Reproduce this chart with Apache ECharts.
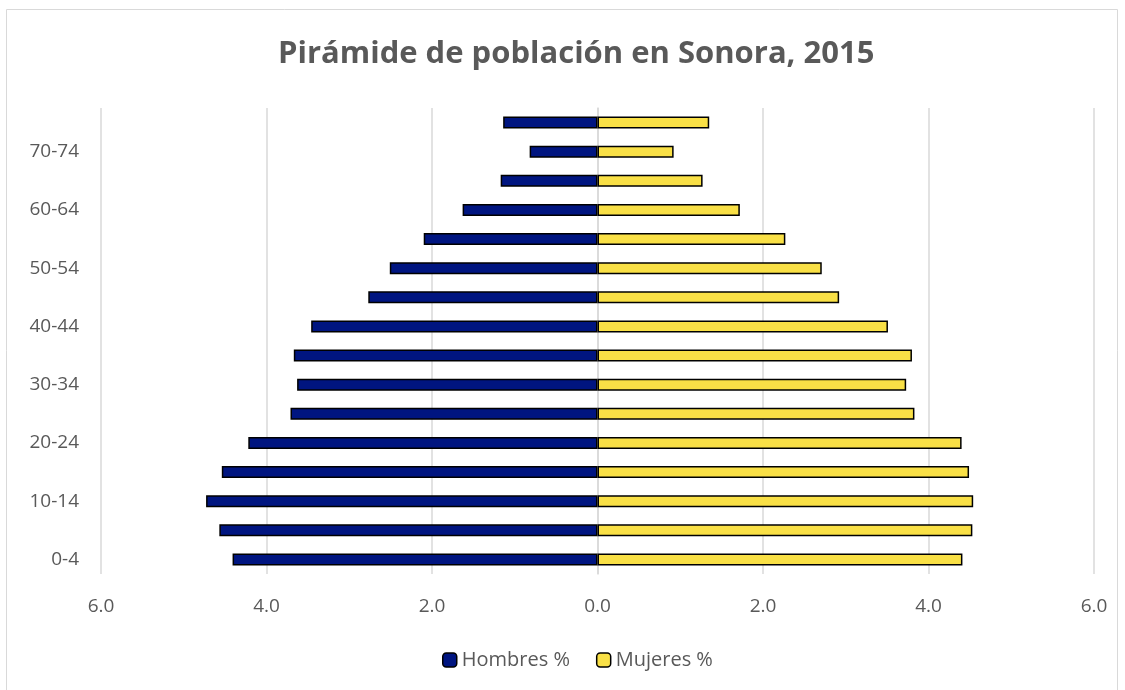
<!DOCTYPE html>
<html>
<head>
<meta charset="utf-8">
<script src="https://cdn.jsdelivr.net/npm/echarts@6/dist/echarts.min.js"></script>
<style>
html, body { margin: 0; padding: 0; background: #fff; }
#chart { width: 1125px; height: 690px; }
</style>
</head>
<body>
<div id="chart"></div>
<script>
let grupos = ['0-4', '5-9', '10-14', '15-19', '20-24', '25-29', '30-34', '35-39',
    '40-44', '45-49', '50-54', '55-59', '60-64', '65-69', '70-74', '75+'];

let hombres = [4.41, 4.57, 4.73, 4.54, 4.22, 3.71, 3.63, 3.67,
    3.46, 2.77, 2.51, 2.10, 1.63, 1.17, 0.82, 1.14];

let mujeres = [4.41, 4.53, 4.54, 4.49, 4.40, 3.83, 3.73, 3.80,
    3.51, 2.92, 2.71, 2.27, 1.72, 1.27, 0.92, 1.35];

let ticks = [-6, -4, -2, 0, 2, 4, 6];

let fuente = '"Open Sans", "Noto Sans", sans-serif';
let gris = '#595959';

let option = {
    animation: false,
    textStyle: { fontFamily: fuente },
    title: {
        text: 'Pirámide de población en Sonora, 2015',
        left: 273,
        top: 34,
        textStyle: { fontSize: 31, fontWeight: 'bold', color: gris, fontFamily: fuente }
    },
    graphic: [{
        type: 'rect',
        shape: { x: 6.5, y: 9.5, width: 1111, height: 700 },
        style: { fill: 'none', stroke: '#d9d9d9', lineWidth: 1 }
    }],
    legend: {
        bottom: 15,
        left: 437,
        itemWidth: 14,
        itemHeight: 14,
        itemGap: 26,
        textStyle: { fontSize: 20, color: gris, fontFamily: fuente },
        data: [
            { name: 'Hombres %', itemStyle: { borderColor: '#000', borderWidth: 1.5 } },
            { name: 'Mujeres %', itemStyle: { borderColor: '#000', borderWidth: 1.5 } }
        ]
    },
    grid: { left: 101, right: 31, top: 108, bottom: 116 },
    xAxis: {
        type: 'value',
        min: ticks[0],
        max: ticks[ticks.length - 1],
        interval: 2,
        axisLine: { show: false },
        axisTick: { show: false },
        splitLine: { lineStyle: { color: '#d9d9d9', width: 1.5 } },
        axisLabel: {
            margin: 23,
            fontSize: 19,
            color: gris,
            formatter: v => Math.abs(v).toFixed(1)
        }
    },
    yAxis: {
        type: 'category',
        data: grupos,
        axisLine: { show: true, onZero: true, lineStyle: { color: '#d9d9d9', width: 1.5 } },
        axisTick: { show: false },
        axisLabel: { interval: 1, margin: 22, fontSize: 19, color: gris }
    },
    series: [{
        name: 'Hombres %',
        type: 'bar',
        barWidth: 12,
        barGap: '-100%',
        itemStyle: { color: '#001580', borderColor: '#000', borderWidth: 1.5 },
        data: hombres.map(v => -v)
    }, {
        name: 'Mujeres %',
        type: 'bar',
        barWidth: 12,
        barGap: '-100%',
        itemStyle: { color: '#F9E046', borderColor: '#000', borderWidth: 1.5 },
        data: mujeres
    }]
};

echarts.init(document.getElementById('chart')).setOption(option);
</script>
</body>
</html>
